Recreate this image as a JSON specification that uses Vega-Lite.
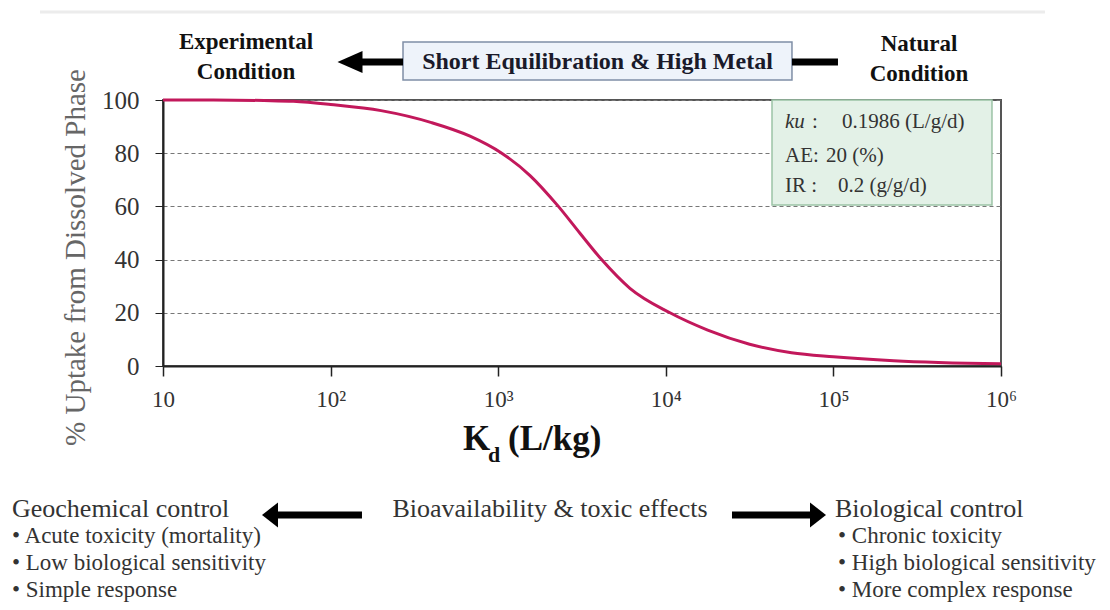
{
  "$schema": "https://vega.github.io/schema/vega-lite/v6.json",
  "width": 838,
  "height": 266,
  "autosize": {"type": "none"},
  "padding": {"left": 163, "top": 100, "right": 109, "bottom": 244},
  "background": "white",
  "config": {
    "view": {"stroke": "#555", "strokeWidth": 2},
    "font": "Liberation Serif",
    "text": {"font": "Liberation Serif", "color": "#222"}
  },
  "datasets": {
    "curve": [
      {"kd": 10, "pct": 100}, {"kd": 20, "pct": 100}, {"kd": 40, "pct": 99.8}, {"kd": 60, "pct": 99.5},
      {"kd": 100, "pct": 98.3}, {"kd": 200, "pct": 96}, {"kd": 400, "pct": 91.5}, {"kd": 679, "pct": 86.4},
      {"kd": 1050, "pct": 80}, {"kd": 1549, "pct": 71.6}, {"kd": 2286, "pct": 60}, {"kd": 3075, "pct": 49.9},
      {"kd": 4140, "pct": 40}, {"kd": 6110, "pct": 29.2}, {"kd": 10590, "pct": 20}, {"kd": 17780, "pct": 13.5},
      {"kd": 31620, "pct": 8.2}, {"kd": 56230, "pct": 5.0}, {"kd": 100000, "pct": 3.5}, {"kd": 229000, "pct": 2}, {"kd": 1000000, "pct": 0.8}
    ]
  },
  "layer": [
    {
      "data": {"name": "curve"},
      "mark": {"type": "line", "color": "#c2185b", "strokeWidth": 3, "interpolate": "monotone", "clip": false},
      "encoding": {
        "x": {"field": "kd", "type": "quantitative",
          "scale": {"type": "log", "domain": [10, 1000000], "nice": false},
          "axis": {"values": [10, 100, 1000, 10000, 100000, 1000000], "title": null, "grid": false,
            "labelExpr": "datum.value == 10 ? '10' : datum.value == 100 ? '10²' : datum.value == 1000 ? '10³' : datum.value == 10000 ? '10⁴' : datum.value == 100000 ? '10⁵' : '10⁶'",
            "labelFont": "Liberation Serif", "labelFontSize": 23, "labelColor": "#333", "labelPadding": 12,
            "tickSize": 10, "tickColor": "#222", "tickWidth": 1.5, "domainColor": "#222", "domainWidth": 2, "labelFlush": false}},
        "y": {"field": "pct", "type": "quantitative",
          "scale": {"domain": [0, 100], "nice": false, "zero": false},
          "axis": {"values": [0, 20, 40, 60, 80, 100], "title": "% Uptake from Dissolved Phase",
            "titleFont": "Liberation Serif", "titleFontSize": 29, "titleFontWeight": "normal", "titleColor": "#666",
            "titleX": -88, "titleY": 157, "titleAngle": -90, "titleAlign": "center", "titleBaseline": "middle",
            "labelFont": "Liberation Serif", "labelFontSize": 25, "labelColor": "#333", "labelPadding": 16,
            "tickSize": 8, "tickColor": "#222", "domainColor": "#222", "domainWidth": 2,
            "grid": true, "gridDash": [4, 3], "gridColor": "#777", "gridWidth": 1}}
      }
    },
    {
      "data": {"values": [{"kd": 1.845, "kd2": 1830000, "pct": 133.1}]},
      "mark": {"type": "rule", "color": "#ececec", "strokeWidth": 3, "clip": false},
      "encoding": {"x": {"field": "kd", "type": "quantitative"}, "x2": {"field": "kd2"}, "y": {"field": "pct", "type": "quantitative"}}
    },
    {
      "data": {"values": [{"kd": 43020, "kd2": 883500, "pct": 100, "pct2": 60.5}]},
      "mark": {"type": "rect", "fill": "#e3f1e7", "stroke": "#9cc3a6", "strokeWidth": 1.5, "clip": false},
      "encoding": {"x": {"field": "kd", "type": "quantitative"}, "x2": {"field": "kd2"}, "y": {"field": "pct", "type": "quantitative"}, "y2": {"field": "pct2"}}
    },
    {
      "data": {"values": [{"kd": 270.4, "kd2": 56600, "pct": 121.8, "pct2": 107.5}]},
      "mark": {"type": "rect", "fill": "#eef3fa", "stroke": "#7f8ea6", "strokeWidth": 1.5, "clip": false},
      "encoding": {"x": {"field": "kd", "type": "quantitative"}, "x2": {"field": "kd2"}, "y": {"field": "pct", "type": "quantitative"}, "y2": {"field": "pct2"}}
    },
    {
      "data": {"values": [
        {"kd": 139.8, "kd2": 270.4, "pct": 114.3},
        {"kd": 56600, "kd2": 106500, "pct": 114.3},
        {"kd": 44.7, "kd2": 153.9, "pct": -56.0},
        {"kd": 24830, "kd2": 77620, "pct": -56.0}
      ]},
      "mark": {"type": "rule", "color": "#000", "strokeWidth": 7, "clip": false},
      "encoding": {"x": {"field": "kd", "type": "quantitative"}, "x2": {"field": "kd2"}, "y": {"field": "pct", "type": "quantitative"}}
    },
    {
      "data": {"values": [{"kd": 130.5, "pct": 114.3}]},
      "mark": {"type": "point", "shape": "M-1,0L1,-0.88L1,0.88Z", "size": 625, "filled": true, "color": "#000", "opacity": 1, "clip": false},
      "encoding": {"x": {"field": "kd", "type": "quantitative"}, "y": {"field": "pct", "type": "quantitative"}}
    },
    {
      "data": {"values": [{"kd": 43.5, "pct": -56.0}]},
      "mark": {"type": "point", "shape": "M-0.64,0L0.64,-1L0.64,1Z", "size": 625, "filled": true, "color": "#000", "opacity": 1, "clip": false},
      "encoding": {"x": {"field": "kd", "type": "quantitative"}, "y": {"field": "pct", "type": "quantitative"}}
    },
    {
      "data": {"values": [{"kd": 80910, "pct": -56.0}]},
      "mark": {"type": "point", "shape": "M0.64,0L-0.64,-1L-0.64,1Z", "size": 625, "filled": true, "color": "#000", "opacity": 1, "clip": false},
      "encoding": {"x": {"field": "kd", "type": "quantitative"}, "y": {"field": "pct", "type": "quantitative"}}
    },
    {
      "data": {"values": [
        {"kd": 31.3, "pct": 121.8, "label": "Experimental"},
        {"kd": 31.3, "pct": 110.5, "label": "Condition"},
        {"kd": 324000, "pct": 121.05, "label": "Natural"},
        {"kd": 324000, "pct": 109.8, "label": "Condition"}
      ]},
      "mark": {"type": "text", "font": "Liberation Serif", "fontSize": 23, "fontWeight": "bold", "align": "center", "baseline": "middle", "color": "#111", "clip": false},
      "encoding": {"x": {"field": "kd", "type": "quantitative"}, "y": {"field": "pct", "type": "quantitative"}, "text": {"field": "label"}}
    },
    {
      "data": {"values": [{"kd": 3912, "pct": 114.3, "label": "Short Equilibration & High Metal"}]},
      "mark": {"type": "text", "font": "Liberation Serif", "fontSize": 24, "fontWeight": "bold", "align": "center", "baseline": "middle", "color": "#1a1a2a", "clip": false},
      "encoding": {"x": {"field": "kd", "type": "quantitative"}, "y": {"field": "pct", "type": "quantitative"}, "text": {"field": "label"}}
    },
    {
      "data": {"values": [{"kd": 51430, "pct": 89.5, "label": "ku"}]},
      "mark": {"type": "text", "font": "Liberation Serif", "fontSize": 21, "fontStyle": "italic", "align": "left", "baseline": "alphabetic", "color": "#333", "clip": false},
      "encoding": {"x": {"field": "kd", "type": "quantitative"}, "y": {"field": "pct", "type": "quantitative"}, "text": {"field": "label"}}
    },
    {
      "data": {"values": [
        {"kd": 74530, "pct": 89.5, "label": ":"},
        {"kd": 112500, "pct": 89.5, "label": "0.1986 (L/g/d)"},
        {"kd": 51430, "pct": 76.7, "label": "AE:"},
        {"kd": 90360, "pct": 76.7, "label": "20 (%)"},
        {"kd": 51430, "pct": 65.4, "label": "IR :"},
        {"kd": 106500, "pct": 65.4, "label": "0.2 (g/g/d)"}
      ]},
      "mark": {"type": "text", "font": "Liberation Serif", "fontSize": 21, "align": "left", "baseline": "alphabetic", "color": "#333", "clip": false},
      "encoding": {"x": {"field": "kd", "type": "quantitative"}, "y": {"field": "pct", "type": "quantitative"}, "text": {"field": "label"}}
    },
    {
      "data": {"values": [
        {"kd": 616.6, "pct": -31.6, "label": "K"},
        {"kd": 1144, "pct": -31.6, "label": "(L/kg)"}
      ]},
      "mark": {"type": "text", "font": "Liberation Serif", "fontSize": 35, "fontWeight": "bold", "align": "left", "baseline": "alphabetic", "color": "#111", "clip": false},
      "encoding": {"x": {"field": "kd", "type": "quantitative"}, "y": {"field": "pct", "type": "quantitative"}, "text": {"field": "label"}}
    },
    {
      "data": {"values": [{"kd": 869, "pct": -36.1, "label": "d"}]},
      "mark": {"type": "text", "font": "Liberation Serif", "fontSize": 22, "fontWeight": "bold", "align": "left", "baseline": "alphabetic", "color": "#111", "clip": false},
      "encoding": {"x": {"field": "kd", "type": "quantitative"}, "y": {"field": "pct", "type": "quantitative"}, "text": {"field": "label"}}
    },
    {
      "data": {"values": [
        {"kd": 1.256, "pct": -56.8, "label": "Geochemical control"},
        {"kd": 102200, "pct": -56.8, "label": "Biological control"}
      ]},
      "mark": {"type": "text", "font": "Liberation Serif", "fontSize": 26, "align": "left", "baseline": "alphabetic", "color": "#333", "clip": false},
      "encoding": {"x": {"field": "kd", "type": "quantitative"}, "y": {"field": "pct", "type": "quantitative"}, "text": {"field": "label"}}
    },
    {
      "data": {"values": [{"kd": 2037, "pct": -56.8, "label": "Bioavailability & toxic effects"}]},
      "mark": {"type": "text", "font": "Liberation Serif", "fontSize": 26, "align": "center", "baseline": "alphabetic", "color": "#333", "clip": false},
      "encoding": {"x": {"field": "kd", "type": "quantitative"}, "y": {"field": "pct", "type": "quantitative"}, "text": {"field": "label"}}
    },
    {
      "data": {"values": [
        {"kd": 1.256, "pct": -66.5, "label": "• Acute toxicity (mortality)"},
        {"kd": 1.256, "pct": -76.7, "label": "• Low biological sensitivity"},
        {"kd": 1.256, "pct": -86.8, "label": "• Simple response"},
        {"kd": 106500, "pct": -66.5, "label": "• Chronic toxicity"},
        {"kd": 106500, "pct": -76.7, "label": "• High biological sensitivity"},
        {"kd": 106500, "pct": -86.8, "label": "• More complex response"}
      ]},
      "mark": {"type": "text", "font": "Liberation Serif", "fontSize": 23, "align": "left", "baseline": "alphabetic", "color": "#333", "clip": false},
      "encoding": {"x": {"field": "kd", "type": "quantitative"}, "y": {"field": "pct", "type": "quantitative"}, "text": {"field": "label"}}
    }
  ]
}
